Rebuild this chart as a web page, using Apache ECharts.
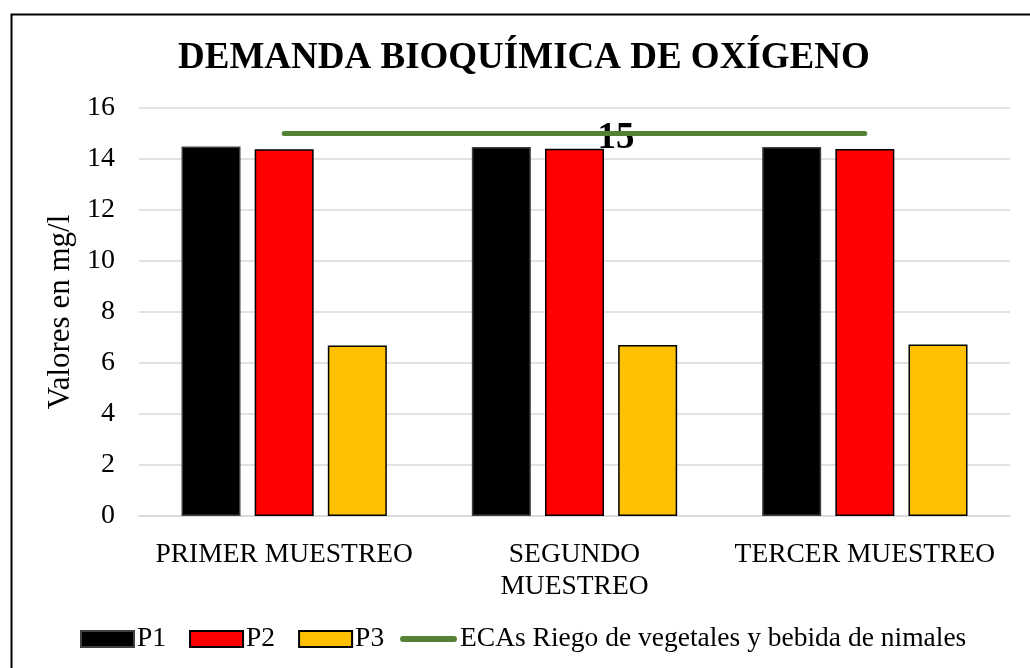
<!DOCTYPE html>
<html>
<head>
<meta charset="utf-8">
<script src="https://cdn.jsdelivr.net/npm/echarts@6/dist/echarts.min.js"></script>
<style>
html,body{margin:0;padding:0;background:#fff;}
#chart{width:1030px;height:668px;}
</style>
</head>
<body>
<div id="chart"></div>
<script>
const categories = ['PRIMER MUESTREO', 'SEGUNDO MUESTREO', 'TERCER MUESTREO'];
const categoryLabels = ['PRIMER MUESTREO', 'SEGUNDO\nMUESTREO', 'TERCER MUESTREO'];
const p1 = [14.49, 14.47, 14.47];
const p2 = [14.38, 14.40, 14.39];
const p3 = [6.69, 6.71, 6.73];
const eca = [15, 15, 15];
const seriesNames = ['P1', 'P2', 'P3', 'ECAs Riego de vegetales y bebida de nimales'];
const yTicks = {min: 0, max: 16, interval: 2};

const FONT = 'Liberation Serif';
const GREEN = '#548235';
const chart = echarts.init(document.getElementById('chart'), null, {renderer: 'canvas'});
const barStyle = (color, border) => ({color: color, borderColor: border, borderWidth: 1.5});
const legendText = {fontFamily: FONT, fontSize: 27.5, color: '#000', padding: [0, 0, 0, -2]};
chart.setOption({
  backgroundColor: '#ffffff',
  animation: false,
  textStyle: {fontFamily: FONT, color: '#000'},
  graphic: [{
    type: 'rect', left: 9, top: 12,
    shape: {width: 1100, height: 800},
    style: {fill: 'none', stroke: '#000', lineWidth: 2}
  }],
  title: {
    text: 'DEMANDA BIOQUÍMICA DE OXÍGENO',
    left: 173, top: 35,
    textStyle: {fontFamily: FONT, fontWeight: 'bold', fontSize: 37, color: '#000'}
  },
  legend: [{
    top: 620, left: 75,
    itemWidth: 53, itemHeight: 16, itemGap: 23,
    textStyle: legendText,
    data: [
      {name: seriesNames[0], icon: 'rect'},
      {name: seriesNames[1], icon: 'rect'},
      {name: seriesNames[2], icon: 'rect'}
    ]
  }, {
    top: 620, left: 395,
    itemWidth: 57, itemHeight: 6,
    textStyle: legendText,
    data: [{
      name: seriesNames[3],
      icon: 'path://M3,0 L54,0 A3,3 0 0 1 54,6 L3,6 A3,3 0 0 1 3,0 Z',
      itemStyle: {color: GREEN, borderWidth: 0}
    }]
  }],
  grid: {left: 139, right: 20, top: 108, bottom: 152, containLabel: false},
  xAxis: {
    type: 'category',
    data: categories,
    axisLine: {lineStyle: {color: '#d9d9d9', width: 1.5}},
    axisTick: {show: false},
    axisLabel: {
      fontFamily: FONT, fontSize: 27.5, color: '#000', margin: 23, lineHeight: 32,
      interval: 0,
      formatter: (v, i) => categoryLabels[i]
    }
  },
  yAxis: {
    type: 'value',
    min: yTicks.min, max: yTicks.max, interval: yTicks.interval,
    name: 'Valores en mg/l',
    nameLocation: 'middle', nameGap: 60,
    nameTextStyle: {fontFamily: FONT, fontSize: 31, color: '#000'},
    axisLine: {show: false},
    axisTick: {show: false},
    axisLabel: {fontFamily: FONT, fontSize: 28, color: '#000', margin: 24},
    splitLine: {lineStyle: {color: '#d9d9d9', width: 1.5}}
  },
  series: [
    {name: seriesNames[0], type: 'bar', data: p1, barWidth: 59, barGap: '24%',
     itemStyle: barStyle('#000000', '#404040')},
    {name: seriesNames[1], type: 'bar', data: p2, barWidth: 59, barGap: '24%',
     itemStyle: barStyle('#ff0000', '#000000')},
    {name: seriesNames[2], type: 'bar', data: p3, barWidth: 59, barGap: '24%',
     itemStyle: barStyle('#ffc000', '#000000')},
    {name: seriesNames[3], type: 'line', data: eca,
     symbol: 'none', showSymbol: false,
     lineStyle: {color: GREEN, width: 5, cap: 'round'},
     itemStyle: {color: GREEN},
     markPoint: {
       symbol: 'circle', symbolSize: 0, silent: true,
       data: [{coord: [1, eca[1]], value: eca[1]}],
       label: {
         show: true, position: 'right', distance: 23, offset: [0, 5],
         formatter: '{c}',
         fontFamily: FONT, fontWeight: 'bold', fontSize: 37, color: '#000'
       }
     },
     z: 5}
  ]
});
</script>
</body>
</html>
